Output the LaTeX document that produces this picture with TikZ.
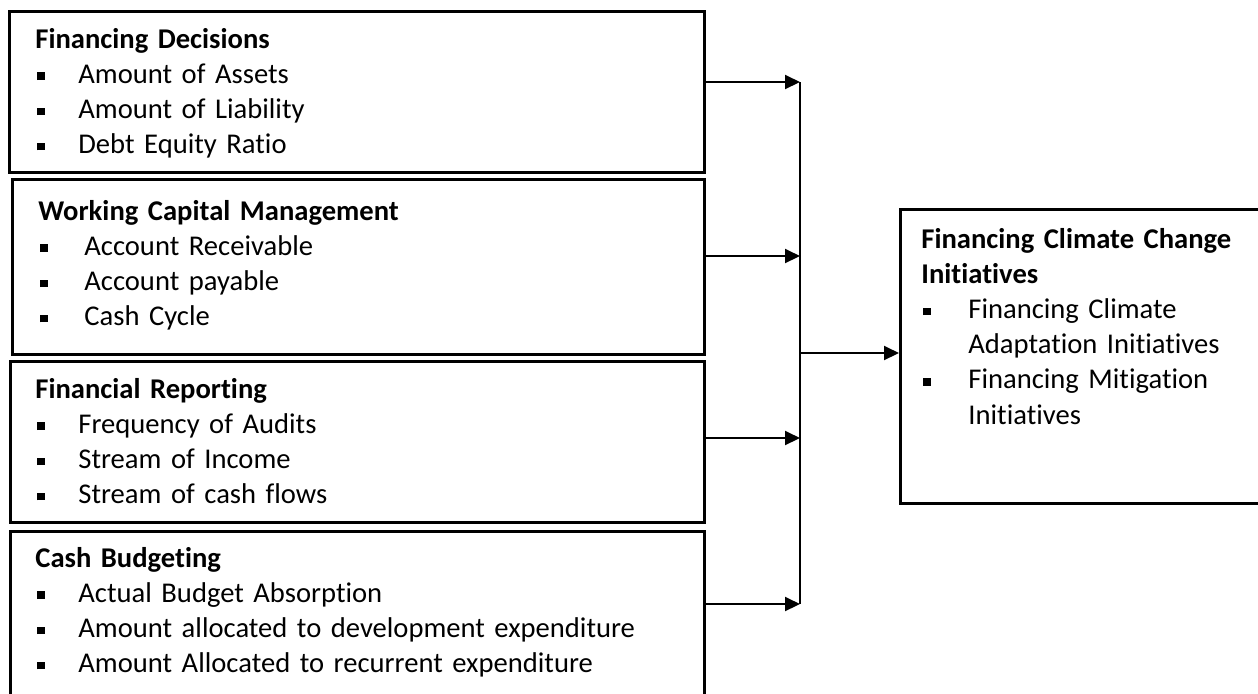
\documentclass[tikz,border=0pt]{standalone}
\usepackage{fontspec}
\setmainfont{Carlito}[Ligatures=CommonOff]
\usetikzlibrary{arrows.meta}
\newcommand{\sqb}{\rule[1.6pt]{3.8pt}{3.8pt}}
\newcommand{\bitem}[2][21.5pt]{\makebox[#1][l]{\hspace*{1pt}\sqb}#2}
\begin{document}
\begin{tikzpicture}[x=0.5pt,y=-0.5pt,
  boxstyle/.style={draw, line width=1.3pt, rectangle, inner sep=0pt, anchor=north west},
  txt/.style={anchor=base west, inner sep=0pt, text width=330pt, align=left,
    font=\fontsize{14.3}{17.6}\selectfont},
  arr/.style={line width=1pt, -{Triangle[length=7.5pt,width=7pt]}},
  bus/.style={line width=0.6pt}]
\clip (0,0) rectangle (1258,693);
\fill[white] (0,0) rectangle (1258,693);
% boxes
\node[boxstyle, minimum width=347.5pt, minimum height=80.5pt] (b1) at (8,10) {};
\node[boxstyle, minimum width=346pt, minimum height=87.5pt] (b2) at (11,178) {};
\node[boxstyle, minimum width=347pt, minimum height=80.5pt] (b3) at (9,360) {};
\node[boxstyle, minimum width=347pt, minimum height=115pt] (b4) at (9,530) {};
\node[boxstyle, minimum width=200.5pt, minimum height=147pt] (r) at (899,208) {};
% texts
\node[txt] (t1) at (35,48) {\textbf{Financing Decisions}\\
  \bitem{Amount of Assets}\\
  \bitem{Amount of Liability}\\
  \bitem{Debt Equity Ratio}};
\node[txt] (t2) at (38,220) {\textbf{Working Capital Management}\\
  \bitem[23pt]{Account Receivable}\\
  \bitem[23pt]{Account payable}\\
  \bitem[23pt]{Cash Cycle}};
\node[txt] (t3) at (35,398) {\textbf{Financial Reporting}\\
  \bitem{Frequency of Audits}\\
  \bitem{Stream of Income}\\
  \bitem{Stream of cash flows}};
\node[txt] (t4) at (35,567) {\textbf{Cash Budgeting}\\
  \bitem{Actual Budget Absorption}\\
  \bitem{Amount allocated to development expenditure}\\
  \bitem{Amount Allocated to recurrent expenditure}};
\node[txt, text width=170pt] (tr) at (921,248) {\textbf{Financing Climate Change}\\
  \textbf{Initiatives}\\
  \bitem[23.5pt]{Financing Climate}\\
  \hspace*{23.5pt}Adaptation Initiatives\\
  \bitem[23.5pt]{Financing Mitigation}\\
  \hspace*{23.5pt}Initiatives};
% connectors
\coordinate (j1) at (800,82);
\coordinate (j2) at (800,256);
\coordinate (j3) at (800,438);
\coordinate (j4) at (800,604);
\coordinate (jo) at (800,353);
\draw[bus] (j1) -- (j4);
\draw[arr] (b1.east |- j1) -- (j1);
\draw[arr] (b2.east |- j2) -- (j2);
\draw[arr] (b3.east |- j3) -- (j3);
\draw[arr] (b4.east |- j4) -- (j4);
\draw[arr] (jo) -- (r.west |- jo);
\end{tikzpicture}
\end{document}
